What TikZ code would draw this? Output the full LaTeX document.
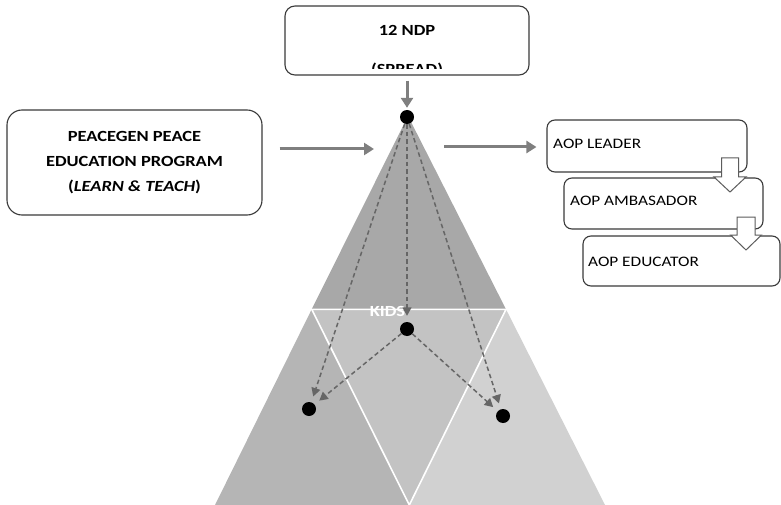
\documentclass[tikz,border=0pt]{standalone}
\usepackage{fontspec}
\setmainfont{Carlito}[FakeStretch=1.19]
\usetikzlibrary{arrows.meta}
\definecolor{topgray}{HTML}{A8A8A8}
\definecolor{leftgray}{HTML}{B5B5B5}
\definecolor{midgray}{HTML}{C3C3C3}
\definecolor{rightgray}{HTML}{D1D1D1}
\definecolor{boxline}{HTML}{3A3A3A}
\definecolor{arrowgray}{HTML}{7F7F7F}
\definecolor{dashgray}{HTML}{666666}
\definecolor{blockline}{HTML}{5C5C5C}
\begin{document}
\begin{tikzpicture}[x=1pt,y=-1pt,
  box/.style={draw=boxline, line width=1.1pt, fill=white, inner sep=0pt},
  dot/.style={circle, fill=black, inner sep=0pt, minimum size=14pt},
  bigarrow/.style={draw=arrowgray, line width=3pt, -{Triangle[length=10pt,width=12pt]}},
  dasharrow/.style={draw=dashgray, line width=1.5pt, dash pattern=on 4.5pt off 3pt, shorten >=6pt, -{Triangle[length=8.5pt,width=9pt]}},
  blockarrow/.style={draw=blockline, line width=1pt, fill=white, line join=miter},
  btxt/.style={inner sep=0pt, font=\fontsize{15.5}{18}\selectfont\bfseries},
  atxt/.style={inner sep=0pt, anchor=west, font=\fontsize{14.5}{17}\selectfont}
]
\useasboundingbox (0,0) rectangle (781,505);

% pyramid
\fill[topgray] (408,116) -- (311.7,309.3) -- (506,309.3) -- cycle;
\fill[leftgray] (311.7,309.3) -- (215,505) -- (409.3,505) -- cycle;
\fill[midgray] (311.7,309.3) -- (506,309.3) -- (409.3,505) -- cycle;
\fill[rightgray] (506,309.3) -- (605,505) -- (409.3,505) -- cycle;
\draw[white, line width=1.6pt] (311.7,309.3) -- (506,309.3) -- (409.3,505) -- cycle;
\node[btxt, text=white] (kids) at (387.5,311) {KIDS};

% top box
\node[box, rounded corners=10pt, minimum width=244pt, minimum height=69pt] (ndp) at (407,40.5) {};
\node[btxt] (ndptxt) at (407,30) {12 NDP};
\begin{scope}
  \clip (285,0) rectangle (529,68.3);
  \node[btxt, anchor=base] (spread) at (407,75) {(SPREAD)};
\end{scope}

% left box
\node[box, rounded corners=15pt, minimum width=255pt, minimum height=105pt, align=center,
      font=\fontsize{15.5}{25.2}\selectfont\bfseries] (lbox) at (134.5,162.5)
  {PEACEGEN PEACE\\EDUCATION PROGRAM\\(\textit{LEARN \& TEACH})};

% right boxes
\node[box, rounded corners=8pt, minimum width=200pt, minimum height=52pt] (leader) at (647,146) {};
\node[atxt] (leadertxt) at (553,143.7) {AOP LEADER};
\node[box, rounded corners=8pt, minimum width=199pt, minimum height=51pt] (amb) at (663.5,203.5) {};
\node[atxt] (ambtxt) at (570,201) {AOP AMBASADOR};
\node[box, rounded corners=8pt, minimum width=197pt, minimum height=50pt] (edu) at (681.5,261) {};
\node[atxt] (edutxt) at (588,262) {AOP EDUCATOR};

% block arrows
\draw[blockarrow] (721.5,158) -- (738.5,158) -- (738.5,177) -- (746,177) -- (730,192) -- (714,177) -- (721.5,177) -- cycle;
\draw[blockarrow] (737,217) -- (755,217) -- (755,235) -- (761.5,235) -- (746,250) -- (730.5,235) -- (737,235) -- cycle;

% dots
\node[dot] (d0) at (407,117) {};
\node[dot] (d1) at (407,329) {};
\node[dot] (dl) at (309,409) {};
\node[dot] (dr) at (503,416) {};

% thick arrows
\coordinate (lin) at (374,149);
\coordinate (rout) at (444,147);
\draw[bigarrow, shorten <=5pt, shorten >=2pt] (ndp) -- (d0);
\draw[bigarrow, shorten <=17pt] (lbox.east |- lin) -- (lin);
\draw[bigarrow, shorten >=10pt] (rout) -- (leader.west |- rout);

% dashed arrows
\draw[dasharrow] (d0) -- (dl);
\draw[dasharrow] (d0) -- (d1);
\draw[dasharrow] (d0) -- (dr);
\draw[dasharrow] (d1) -- (dl);
\draw[dasharrow] (d1) -- (dr);
\end{tikzpicture}
\end{document}
